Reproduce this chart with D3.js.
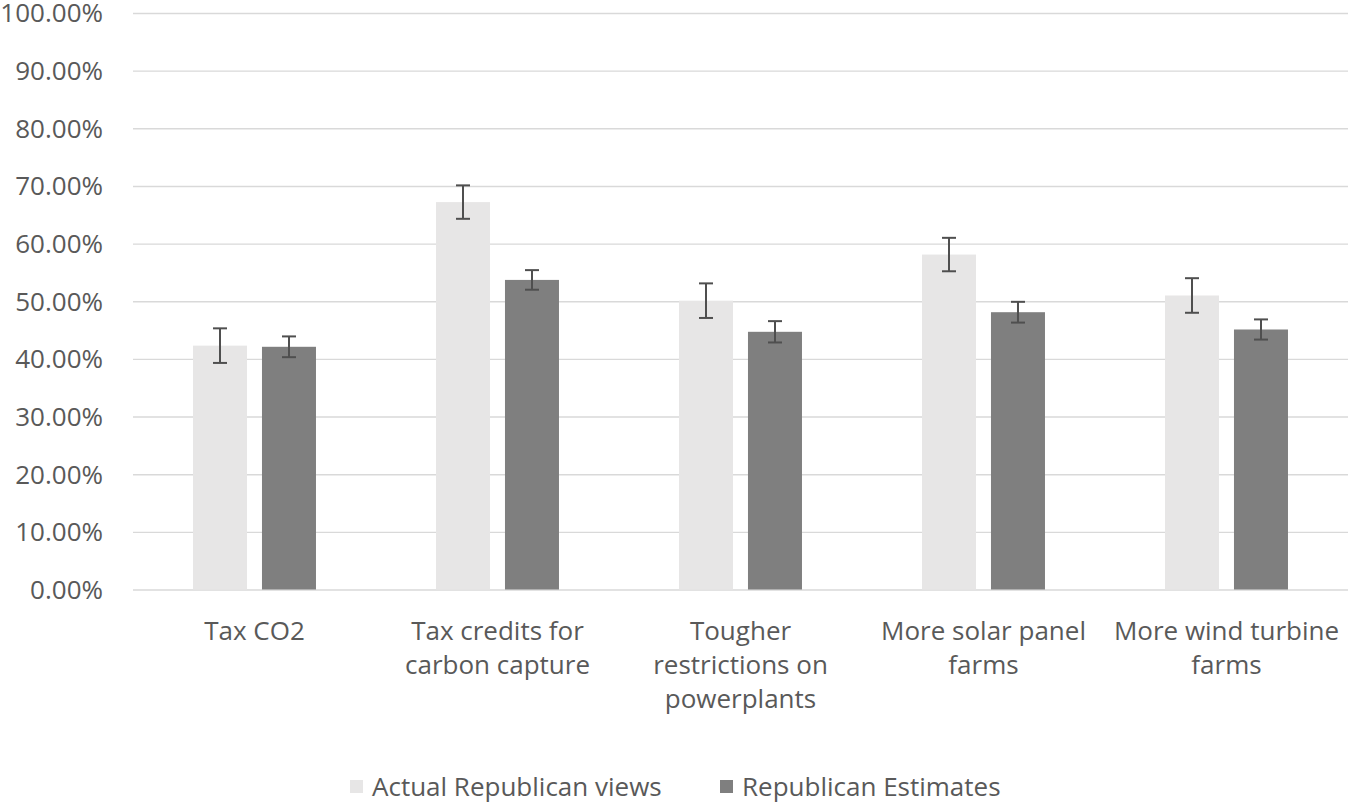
<!DOCTYPE html>
<html>
<head>
<meta charset="utf-8">
<script src="https://cdn.jsdelivr.net/npm/d3@7"></script>
<style>
  body { margin: 0; background: #fff; }
  text { font-family: "Open Sans", sans-serif; fill: #595959; }
</style>
</head>
<body>
<svg id="chart"></svg>
<script>
// values (percent)
var categories = ["Tax CO2", "Tax credits for\ncarbon capture", "Tougher\nrestrictions on\npowerplants", "More solar panel\nfarms", "More wind turbine\nfarms"]
var seriesNames = ["Actual Republican views", "Republican Estimates"]
var actualViews = [42.3, 67.2, 50.1, 58.1, 51.0]
var actualErr = [3.0, 2.9, 3.0, 2.9, 3.0]
var estimates = [42.1, 53.7, 44.7, 48.1, 45.1]
var estimatesErr = [1.8, 1.7, 1.85, 1.8, 1.75]
var yTicks = [0, 10, 20, 30, 40, 50, 60, 70, 80, 90, 100]
var colors = ["#e7e6e6", "#7f7f7f"]

var dimensions = {
    width: 1350,
    height: 804,
    margin: {
        top: 13,
        bottom: 214.5,
        right: 2,
        left: 133
    }
}

var svg = d3.select("#chart")
    .attr("width", dimensions.width)
    .attr("height", dimensions.height)

var plotW = dimensions.width - dimensions.margin.left - dimensions.margin.right
var plotBottom = dimensions.height - dimensions.margin.bottom

var rows = categories.map((c, i) => ({
    cat: c,
    vals: [
        { s: 0, v: actualViews[i], e: actualErr[i] },
        { s: 1, v: estimates[i], e: estimatesErr[i] }
    ]
}))

var xScale = d3.scaleBand()
    .domain(categories)
    .range([dimensions.margin.left, dimensions.width - dimensions.margin.right])

var innerScale = d3.scaleBand()
    .domain([0, 1])
    .range([xScale.bandwidth() * 0.247, xScale.bandwidth() * 0.753])
    .paddingInner(0.217)

var yScale = d3.scaleLinear()
    .domain([0, 100])
    .range([plotBottom, dimensions.margin.top])

// gridlines + tick labels
var yAxisgen = d3.axisLeft(yScale)
    .tickValues(yTicks)
    .tickSize(-plotW)
    .tickPadding(30)
    .tickFormat(d => d.toFixed(2) + "%")

var yAxis = svg.append("g")
    .attr("transform", `translate(${dimensions.margin.left},0)`)
    .call(yAxisgen)
yAxis.select(".domain").remove()
yAxis.selectAll("line").attr("stroke", "#d9d9d9").attr("stroke-width", 1.4)
yAxis.selectAll("text")
    .style("font-size", "26px")
    .attr("fill", "#595959")
    .attr("dy", "0.34em")

// bars
var groups = svg.selectAll("g.cat")
    .data(rows)
    .enter()
    .append("g")
    .attr("class", "cat")
    .attr("transform", d => `translate(${xScale(d.cat)},0)`)

groups.selectAll("rect")
    .data(d => d.vals)
    .enter()
    .append("rect")
    .attr("x", d => innerScale(d.s))
    .attr("y", d => yScale(d.v))
    .attr("width", innerScale.bandwidth())
    .attr("height", d => plotBottom - yScale(d.v))
    .attr("fill", d => colors[d.s])

// error bars
var capHalf = 7
var errs = groups.selectAll("g.err")
    .data(d => d.vals)
    .enter()
    .append("g")
    .attr("class", "err")
    .attr("stroke", "#4f4f4f")
    .attr("stroke-width", 2)

errs.append("line")
    .attr("x1", d => innerScale(d.s) + innerScale.bandwidth() / 2)
    .attr("x2", d => innerScale(d.s) + innerScale.bandwidth() / 2)
    .attr("y1", d => yScale(d.v + d.e))
    .attr("y2", d => yScale(d.v - d.e))
errs.selectAll("line.cap")
    .data(d => [{ s: d.s, y: d.v + d.e }, { s: d.s, y: d.v - d.e }])
    .enter()
    .append("line")
    .attr("class", "cap")
    .attr("x1", d => innerScale(d.s) + innerScale.bandwidth() / 2 - capHalf)
    .attr("x2", d => innerScale(d.s) + innerScale.bandwidth() / 2 + capHalf)
    .attr("y1", d => yScale(d.y))
    .attr("y2", d => yScale(d.y))

// category labels
var xLabels = groups.append("text")
    .attr("text-anchor", "middle")
    .style("font-size", "26px")
    .attr("transform", `translate(${xScale.bandwidth() / 2},${plotBottom + 50})`)
xLabels.selectAll("tspan")
    .data(d => d.cat.split("\n"))
    .enter()
    .append("tspan")
    .attr("x", 0)
    .attr("y", (d, i) => i * 34)
    .text(d => d)

// legend
var legendX = [350, 720]
var legend = svg.selectAll("g.legend")
    .data(seriesNames)
    .enter()
    .append("g")
    .attr("class", "legend")
    .attr("transform", (d, i) => `translate(${legendX[i]},787)`)
legend.append("rect")
    .attr("x", 0)
    .attr("y", -7)
    .attr("width", 13)
    .attr("height", 13)
    .attr("fill", (d, i) => colors[i])
legend.append("text")
    .attr("x", 22)
    .attr("dy", "0.36em")
    .style("font-size", "26px")
    .text(d => d)
</script>
</body>
</html>
